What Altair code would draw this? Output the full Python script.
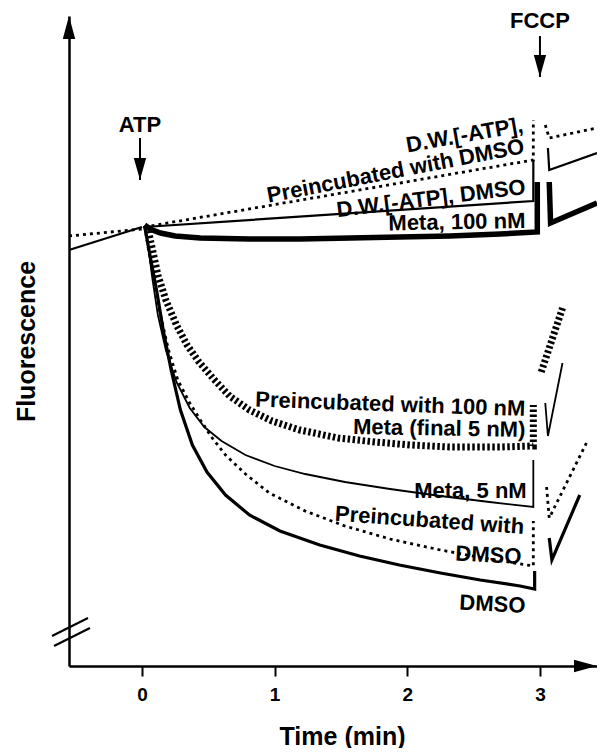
import altair as alt
import pandas as pd

FONT = "Liberation Sans, Arial, Helvetica, sans-serif"

# ---------------- data (time in min, fluorescence in arbitrary units) -------------
base_solid_t = [-0.55, 0.0]
base_solid_v = [416, 439]
base_dot_t = [-0.55, 0.0]
base_dot_v = [430, 437]

dwpre_t = [0.02, 2.95, 2.95]
dwpre_v = [439, 506, 546]
dwpre_f_t = [3.04, 3.07, 3.43]
dwpre_f_v = [541, 528, 538]

dw_t = [0.02, 2.95, 2.95]
dw_v = [439, 465, 506]
dw_f_t = [3.06, 3.07, 3.43]
dw_f_v = [518, 496, 513]

m100_t = [0.02, 0.06, 0.14, 0.25, 0.44, 0.81, 1.19, 1.57, 1.94, 2.32, 2.70, 2.98, 2.98]
m100_v = [441, 437, 433, 430, 428, 427, 427, 428, 429, 430, 432, 434, 484]
m100_f_t = [3.07, 3.08, 3.43]
m100_f_v = [484, 443, 463]

dmso_t = [0.02, 0.06, 0.11, 0.16, 0.22, 0.29, 0.38, 0.49, 0.63, 0.81, 1.04, 1.34,
          1.64, 1.94, 2.25, 2.55, 2.85, 2.96, 2.96]
dmso_v = [440, 411, 376, 336, 296, 256, 221, 194, 171, 151, 135, 121,
          110, 101, 93, 86, 80, 77, 95]
dmso_f_t = [3.07, 3.09, 3.30]
dmso_f_v = [128, 106, 171]

predmso_t = [0.02, 0.05, 0.09, 0.14, 0.20, 0.27, 0.36, 0.44, 0.53, 0.63, 0.78, 0.96,
             1.23, 1.53, 1.87, 2.25, 2.62, 2.95, 2.95]
predmso_v = [440, 416, 386, 351, 316, 286, 263, 246, 228, 211, 192, 173,
             155, 140, 127, 116, 107, 100, 145]
predmso_f_t = [3.05, 3.07, 3.35]
predmso_f_v = [179, 148, 223]

meta5_t = [0.02, 0.05, 0.08, 0.12, 0.18, 0.26, 0.36, 0.47, 0.60, 0.78, 1.00, 1.23,
           1.53, 1.87, 2.25, 2.62, 2.95, 2.95]
meta5_v = [440, 416, 386, 351, 316, 284, 258, 239, 225, 211, 200, 192,
           184, 177, 170, 164, 159, 206]
meta5_f_t = [3.04, 3.06, 3.17]
meta5_f_v = [263, 230, 303]

pre100_t = [0.04, 0.08, 0.12, 0.18, 0.26, 0.34, 0.43, 0.54, 0.66, 0.81, 0.98, 1.19,
            1.48, 1.76, 2.02, 2.32, 2.70, 2.95, 2.95]
pre100_v = [440, 416, 391, 366, 341, 321, 304, 287, 270, 256, 245, 236,
            228, 224, 221, 219, 219, 220, 261]
pre100_f_t = [3.01, 3.17]
pre100_f_v = [294, 358]

# labels (anchored at their right end)
label_text = ["D.W.[-ATP],", "Preincubated with DMSO", "D.W.[-ATP], DMSO", "Meta, 100 nM",
              "Preincubated with 100 nM", "Meta  (final 5 nM)", "Meta, 5 nM",
              "Preincubated with", "DMSO", "DMSO"]
label_t = [2.87, 2.88, 2.89, 2.89, 2.89, 2.89, 2.90, 2.88, 2.86, 2.89]
label_v = [541, 520, 479, 445, 257, 236, 175, 139, 109, 60]
label_angle = [350, 349, 353, 359, 2, 1, 0, 4, 3, 3]

# additions (arrows)
add_text = ["ATP", "FCCP"]
add_t = [-0.015, 3.0]
add_text_v = [541, 645]
add_shaft_top = [528, 630]
add_tip_v = [486, 589]

# axis extent and break mark
x_min, x_max = -0.55, 3.43
y_min, y_max = 0, 650
break_t1 = [-0.678, -0.663]
break_t2 = [-0.407, -0.392]
break_v1 = [30, 20]
break_v2 = [48, 38]

# ---------------- build tables -------------
traces = [
    ("base_solid", [(base_solid_t, base_solid_v)]),
    ("base_dot", [(base_dot_t, base_dot_v)]),
    ("dwpre", [(dwpre_t, dwpre_v), (dwpre_f_t, dwpre_f_v)]),
    ("dw", [(dw_t, dw_v), (dw_f_t, dw_f_v)]),
    ("m100", [(m100_t, m100_v), (m100_f_t, m100_f_v)]),
    ("dmso", [(dmso_t, dmso_v), (dmso_f_t, dmso_f_v)]),
    ("predmso", [(predmso_t, predmso_v), (predmso_f_t, predmso_f_v)]),
    ("meta5", [(meta5_t, meta5_v), (meta5_f_t, meta5_f_v)]),
    ("pre100", [(pre100_t, pre100_v), (pre100_f_t, pre100_f_v)]),
]
styles = {
    "base_solid": dict(strokeWidth=2.2),
    "base_dot": dict(strokeWidth=2.8, strokeDash=[3, 4]),
    "dwpre": dict(strokeWidth=2.8, strokeDash=[3, 4]),
    "dw": dict(strokeWidth=2.2),
    "m100": dict(strokeWidth=5.5),
    "dmso": dict(strokeWidth=3.2),
    "predmso": dict(strokeWidth=2.8, strokeDash=[3, 4]),
    "meta5": dict(strokeWidth=1.8),
    "pre100": dict(strokeWidth=7, strokeDash=[2.5, 2.5]),
}

rows = []
for name, segs in traces:
    for si, (ts, vs) in enumerate(segs):
        for i, (t, v) in enumerate(zip(ts, vs)):
            rows.append({"trace": name, "seg": f"{name}_{si}", "i": i, "t": t, "v": v})
df = pd.DataFrame(rows)

labels_df = pd.DataFrame({"text": label_text, "t": label_t, "v": label_v, "a": label_angle})
add_df = pd.DataFrame({"text": add_text, "t": add_t, "tv": add_text_v,
                       "top": add_shaft_top, "tip": add_tip_v})
break_df = pd.DataFrame({"t1": break_t1, "t2": break_t2, "v1": break_v1, "v2": break_v2})
xhead_df = pd.DataFrame({"t": [x_max], "v": [y_min]})
yhead_df = pd.DataFrame({"t": [x_min], "v": [y_max]})

xscale = alt.Scale(domain=[x_min, x_max], nice=False, zero=False)
yscale = alt.Scale(domain=[y_min, y_max], nice=False, zero=False)
xaxis = alt.Axis(title="Time (min)", values=[0, 1, 2, 3], format="d", grid=False,
                 domainColor="black", domainWidth=2.5, tickColor="black", tickWidth=2,
                 tickSize=10, labelFont=FONT, labelFontSize=19, labelFontWeight="bold",
                 labelColor="black", labelPadding=9, titleFont=FONT, titleFontSize=25,
                 titleFontWeight="bold", titleColor="black", titlePadding=20, titleX=273)
yaxis = alt.Axis(title="Fluorescence", labels=False, ticks=False, grid=False,
                 domainColor="black", domainWidth=2.5, titleFont=FONT, titleFontSize=25,
                 titleFontWeight="bold", titleColor="black", titlePadding=30)


def X(field):
    return alt.X(field, type="quantitative", scale=xscale, axis=xaxis)


def Y(field):
    return alt.Y(field, type="quantitative", scale=yscale, axis=yaxis)


layers = []
for name, _ in traces:
    layers.append(
        alt.Chart(df).transform_filter(alt.datum.trace == name)
        .mark_line(color="black", strokeCap="butt", strokeJoin="miter", **styles[name])
        .encode(x=X("t"), y=Y("v"), detail="seg:N", order="i:Q")
    )

labels = alt.Chart(labels_df).mark_text(
    font=FONT, fontSize=22, fontWeight="bold", color="black", align="right", baseline="middle"
).encode(x=X("t"), y=Y("v"), text="text:N", angle=alt.Angle("a:Q", scale=None))

add_labels = alt.Chart(add_df).mark_text(
    font=FONT, fontSize=22, fontWeight="bold", color="black", align="center", baseline="middle"
).encode(x=X("t"), y=Y("tv"), text="text:N")

shafts = alt.Chart(add_df).mark_rule(color="black", strokeWidth=2).encode(
    x=X("t"), y=Y("top"), y2="tip:Q")

down_head = "M0,0 L-0.28,-1 L0.28,-1 Z"
heads = alt.Chart(add_df).mark_point(shape=down_head, filled=True, color="black",
                                     opacity=1, size=1936, strokeWidth=0).encode(
    x=X("t"), y=Y("tip"))

xhead = alt.Chart(xhead_df).mark_point(shape="M0,0 L-1,-0.27 L-1,0.27 Z", filled=True,
                                       color="black", opacity=1, size=2116,
                                       strokeWidth=0).encode(x=X("t"), y=Y("v"))
yhead = alt.Chart(yhead_df).mark_point(shape="M0,0 L-0.27,1 L0.27,1 Z", filled=True,
                                       color="black", opacity=1, size=2116,
                                       strokeWidth=0).encode(x=X("t"), y=Y("v"))

breaks = alt.Chart(break_df).mark_rule(color="black", strokeWidth=2.2).encode(
    x=X("t1"), x2="t2:Q", y=Y("v1"), y2="v2:Q")

chart = alt.layer(*layers, labels, add_labels, shafts, heads, xhead, yhead, breaks).properties(
    width=528, height=650,
    padding={"left": 61, "top": 8, "right": 0, "bottom": 82},
    autosize=alt.AutoSizeParams(type="none"),
    background="white",
).configure_view(stroke=None)

chart.save("out.html", embed_options={"renderer": "svg", "actions": False})
